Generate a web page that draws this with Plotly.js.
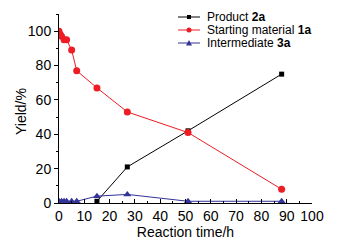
<!DOCTYPE html>
<html>
<head>
<meta charset="utf-8">
<script src="https://cdn.plot.ly/plotly-3.0.1.min.js"></script>
<style>html,body{margin:0;padding:0;background:#fff;}#chart{width:343px;height:243px;}</style>
</head>
<body>
<div id="chart"></div>
<script>
const productTime = [15, 27, 51, 88];
const productYield = [1, 21, 42, 75];
const startTime = [0, 0.5, 1, 2, 3, 5, 7, 15, 27, 51, 88];
const startYield = [100, 98, 97, 95, 95, 89, 77, 67, 53, 41, 8];
const interTime = [0, 1, 2, 3, 5, 7, 15, 27, 51, 88];
const interYield = [1, 1, 1, 1, 1, 1, 4, 5, 1, 1];
const seriesNames = ["Product <b>2a</b>", "Starting material <b>1a</b>", "Intermediate <b>3a</b>"];
const xTicks = [0, 10, 20, 30, 40, 50, 60, 70, 80, 90, 100];
const yTicks = [0, 20, 40, 60, 80, 100];

const colors = ["#000000", "#ee1c24", "#333399"];
const symbols = ["square", "circle", "triangle-up"];
const sizes = [5, 7, 7];
const series = [[productTime, productYield], [startTime, startYield], [interTime, interYield]];

const traces = series.map((s, i) => ({
  x: s[0], y: s[1], name: seriesNames[i], mode: "lines+markers",
  line: {color: colors[i], width: 1},
  marker: {symbol: symbols[i], size: sizes[i], color: colors[i]}
}));

const W = 343, H = 243, M = {l: 59, r: 31, t: 14, b: 40};
const pw = W - M.l - M.r, ph = H - M.t - M.b;
const px = v => (v - M.l) / pw;
const py = v => (H - M.b - v) / ph;

// custom compact legend
const shapes = [], annotations = [];
const rowY = [17, 30, 43];
seriesNames.forEach((name, i) => {
  const yy = rowY[i];
  shapes.push({type: "line", xref: "paper", yref: "paper", x0: px(178), x1: px(200), y0: py(yy), y1: py(yy),
               line: {color: colors[i], width: 1}});
  const cx = 189;
  if (symbols[i] === "square") {
    shapes.push({type: "rect", xref: "paper", yref: "paper", x0: px(cx - 2), x1: px(cx + 2), y0: py(yy - 2), y1: py(yy + 2),
                 fillcolor: colors[i], line: {width: 0}});
  } else if (symbols[i] === "circle") {
    shapes.push({type: "circle", xref: "paper", yref: "paper", x0: px(cx - 2.5), x1: px(cx + 2.5), y0: py(yy - 2.5), y1: py(yy + 2.5),
                 fillcolor: colors[i], line: {width: 0}});
  } else {
    shapes.push({type: "path", xref: "paper", yref: "paper",
                 path: `M ${px(cx - 3)} ${py(yy + 2.5)} L ${px(cx + 3)} ${py(yy + 2.5)} L ${px(cx)} ${py(yy - 3)} Z`,
                 fillcolor: colors[i], line: {width: 0}});
  }
  annotations.push({xref: "paper", yref: "paper", x: px(206), y: py(yy), xanchor: "left", yanchor: "middle",
                    text: name, showarrow: false, borderpad: 0, font: {size: 12, color: "#000"}});
});

// y-axis title placed like the reference
annotations.push({xref: "paper", yref: "paper", x: px(21), y: py(112), xanchor: "center", yanchor: "middle",
                  text: "Yield/%", textangle: -90, showarrow: false, font: {size: 14, color: "#000"}});

const layout = {
  width: W, height: H,
  margin: M,
  paper_bgcolor: "#ffffff", plot_bgcolor: "#ffffff",
  font: {family: "Liberation Sans, Arial, sans-serif", color: "#000000", size: 14},
  showlegend: false,
  shapes: shapes, annotations: annotations,
  xaxis: {
    range: [0, 100], tickvals: xTicks, ticktext: xTicks.map(String),
    showgrid: false, zeroline: false, showline: true, linecolor: "#000", linewidth: 1,
    ticks: "inside", ticklen: 4, tickcolor: "#000",
    minor: {dtick: 5, ticks: "inside", ticklen: 2, tickcolor: "#000"},
    title: {text: "Reaction time/h", font: {size: 14}, standoff: 3},
    tickfont: {size: 14}
  },
  yaxis: {
    range: [0, 110], tickvals: yTicks, ticktext: yTicks.map(String),
    showgrid: false, zeroline: false, showline: true, linecolor: "#000", linewidth: 1,
    ticks: "outside", ticklen: 4, tickcolor: "#000",
    minor: {dtick: 10, ticks: "outside", ticklen: 2, tickcolor: "#000"},
    tickfont: {size: 14}
  }
};

Plotly.newPlot("chart", traces, layout, {displayModeBar: false, staticPlot: true});
</script>
</body>
</html>
